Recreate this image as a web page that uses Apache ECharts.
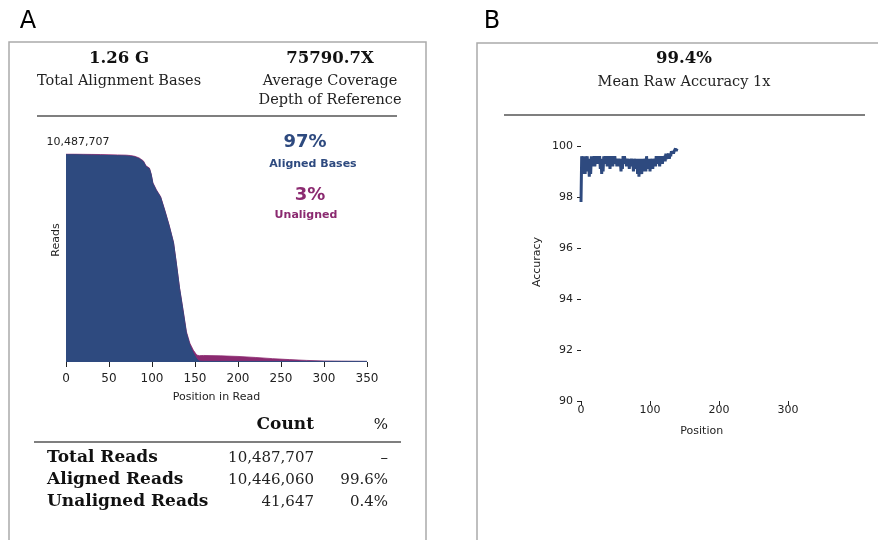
<!DOCTYPE html>
<html lang="en">
<head>
    <meta charset="utf-8">
    <title>Alignment summary</title>
    <script src="https://cdn.jsdelivr.net/npm/echarts@6/dist/echarts.min.js"></script>
    <style>
        html, body, #main {
            width: 100%;
            height: 100%;
            margin: 0;
            padding: 0;
            overflow: hidden;
            background-color: #ffffff;
        }
    </style>
</head>
<body>
<div id="main" style="width: 878px;height: 540px"></div>
<script>
    // panel A: reads per position in read (millions)
    var readPos = [0, 10, 20, 30, 40, 50, 60, 70, 75, 80, 85, 90, 93, 97, 99, 101, 105, 110, 115, 120,
        125, 128, 132, 136, 140, 144, 148, 152, 155, 160, 180, 200, 220, 240, 260, 280, 300, 320, 350];
    var alignedReads = [10.45, 10.45, 10.44, 10.43, 10.42, 10.41, 10.40, 10.39, 10.37, 10.33, 10.25, 10.10, 9.85, 9.74, 9.45, 9.0, 8.65, 8.3, 7.6, 6.85,
        6.0, 5.05, 3.7, 2.6, 1.45, 0.85, 0.45, 0.15, 0.04, 0.03, 0.03, 0.03, 0.03, 0.03, 0.03, 0.03, 0.03, 0.03, 0.03];
    var unalignedReads = [0.04, 0.04, 0.04, 0.04, 0.04, 0.04, 0.04, 0.04, 0.04, 0.04, 0.04, 0.04, 0.04, 0.04, 0.04, 0.04, 0.04, 0.04, 0.04, 0.04,
        0.04, 0.04, 0.05, 0.06, 0.08, 0.1, 0.15, 0.2, 0.28, 0.30, 0.28, 0.25, 0.2, 0.14, 0.09, 0.05, 0.02, 0.01, 0];
    var totalReads = 10.487707;
    var readTicks = [0, 50, 100, 150, 200, 250, 300, 350];

    // panel A summary text
    var headA = [['1.26 G', 'Total Alignment Bases', ''], ['75790.7X', 'Average Coverage', 'Depth of Reference']];
    var tableRows = ['Total Reads', 'Aligned Reads', 'Unaligned Reads'];
    var tableCounts = ['10,487,707', '10,446,060', '41,647'];
    var tablePct = ['\u2013', '99.6%', '0.4%'];

    // panel B: mean accuracy by position (0..140)
    var accuracy = [97.8, 99.6, 99.1, 99.5, 98.9, 99.6, 98.9, 99.5, 99.2, 99.6,
        99.0, 99.5, 98.8, 99.5, 98.9, 99.6, 99.2, 99.5, 99.3, 99.6,
        99.2, 99.5, 99.3, 99.6, 99.4, 99.5, 99.3, 99.6, 99.1, 99.5,
        98.9, 99.5, 99.0, 99.6, 99.3, 99.6, 99.4, 99.6, 99.2, 99.5,
        99.3, 99.6, 99.1, 99.5, 99.3, 99.6, 99.2, 99.5, 99.4, 99.6,
        99.3, 99.5, 99.2, 99.5, 99.3, 99.5, 99.2, 99.4, 99.0, 99.5,
        99.1, 99.6, 99.3, 99.6, 99.4, 99.5, 99.2, 99.5, 99.3, 99.5,
        99.1, 99.5, 99.3, 99.5, 99.2, 99.4, 99.0, 99.5, 99.2, 99.4,
        99.1, 99.5, 98.9, 99.4, 98.8, 99.5, 99.1, 99.4, 98.9, 99.5,
        99.0, 99.4, 99.2, 99.5, 99.0, 99.6, 99.1, 99.4, 99.2, 99.5,
        99.0, 99.4, 99.2, 99.5, 99.1, 99.5, 99.3, 99.5, 99.2, 99.6,
        99.3, 99.6, 99.4, 99.5, 99.2, 99.6, 99.4, 99.6, 99.3, 99.6,
        99.5, 99.6, 99.4, 99.7, 99.5, 99.6, 99.6, 99.7, 99.5, 99.7,
        99.6, 99.8, 99.7, 99.8, 99.7, 99.8, 99.8, 99.9, 99.8, 99.9,
        99.9];
    var accTicks = [90, 92, 94, 96, 98, 100];
    var accPosTicks = [0, 100, 200, 300];

    var blue = '#2e4a7f';
    var purple = '#8b2a70';
    var serif = '"DejaVu Serif", serif';
    var sans = '"DejaVu Sans", sans-serif';

    // total = aligned + unaligned, drawn behind the aligned area
    var alignedData = [], totalData = [], accData = [];
    for (var i = 0; i < readPos.length; i++) {
        alignedData.push([readPos[i], alignedReads[i]]);
        totalData.push([readPos[i], alignedReads[i] + unalignedReads[i]]);
    }
    for (var j = 0; j < accuracy.length; j++) {
        accData.push([j, accuracy[j]]);
    }

    function txt(s, x, y, font, color, align, rot) {
        return {
            type: 'text', x: x, y: y, z: 100, silent: true, rotation: rot || 0,
            style: {
                text: s, font: font, fill: color || '#222',
                align: align || 'center', verticalAlign: 'middle',
                textAlign: align || 'center', textVerticalAlign: 'middle'
            }
        };
    }

    function rule(x1, x2, y, color) {
        return {
            type: 'line', silent: true, z: 100,
            shape: {x1: x1, y1: y, x2: x2, y2: y},
            style: {stroke: color || '#555', lineWidth: 1.5}
        };
    }

    var g = [];
    // panel frames and letters
    g.push({type: 'rect', shape: {x: 9, y: 42, width: 417, height: 520}, style: {fill: 'none', stroke: '#aaa', lineWidth: 1.5}, silent: true});
    g.push({type: 'rect', shape: {x: 477, y: 43, width: 420, height: 520}, style: {fill: 'none', stroke: '#aaa', lineWidth: 1.5}, silent: true});
    g.push(txt('A', 28, 22, '24px ' + sans, '#000'));
    g.push(txt('B', 492, 22, '24px ' + sans, '#000'));

    // panel A header
    var headX = [119, 330];
    for (var h = 0; h < headA.length; h++) {
        g.push(txt(headA[h][0], headX[h], 59, 'bold 16.5px ' + serif, '#111'));
        g.push(txt(headA[h][1], headX[h], 81, '14.5px ' + serif, '#222'));
        if (headA[h][2]) g.push(txt(headA[h][2], headX[h], 100, '14.5px ' + serif, '#222'));
    }
    g.push(rule(37, 397, 116));

    // panel A plot annotations
    g.push(txt('10,487,707', 78, 142, '11px ' + sans, '#222'));
    g.push(txt('Reads', 56, 240, '11px ' + sans, '#222', 'center', Math.PI / 2));
    g.push(txt('97%', 305, 142, 'bold 18px ' + sans, blue));
    g.push(txt('Aligned Bases', 313, 164, 'bold 11px ' + sans, blue));
    g.push(txt('3%', 310, 195, 'bold 18px ' + sans, purple));
    g.push(txt('Unaligned', 306, 215, 'bold 11px ' + sans, purple));

    // panel A table
    g.push(txt('Count', 314, 425, 'bold 17px ' + serif, '#111', 'right'));
    g.push(txt('%', 388, 425, '15px ' + serif, '#111', 'right'));
    g.push(rule(34, 401, 442));
    for (var r = 0; r < tableRows.length; r++) {
        var ry = 458 + r * 22;
        g.push(txt(tableRows[r], 47, ry, 'bold 17px ' + serif, '#111', 'left'));
        g.push(txt(tableCounts[r], 314, ry, '15px ' + serif, '#222', 'right'));
        g.push(txt(tablePct[r], 388, ry, '15px ' + serif, '#222', 'right'));
    }

    // panel B header
    g.push(txt('99.4%', 684, 59, 'bold 16.5px ' + serif, '#111'));
    g.push(txt('Mean Raw Accuracy 1x', 684, 82, '14.5px ' + serif, '#222'));
    g.push(rule(504, 865, 115));
    g.push(txt('Accuracy', 537, 262, '11px ' + sans, '#222', 'center', Math.PI / 2));

    var chart = echarts.init(document.getElementById('main'));
    var option = {
        animation: false,
        graphic: g,
        grid: [
            {left: 66, top: 154, width: 301, height: 208},
            {left: 581, top: 146, width: 241.5, height: 255}
        ],
        xAxis: [
            {
                gridIndex: 0, type: 'value', min: 0, max: 350, interval: 50,
                name: 'Position in Read', nameLocation: 'middle', nameGap: 30,
                nameTextStyle: {fontFamily: 'DejaVu Sans', fontSize: 11, color: '#222'},
                axisLine: {show: false},
                axisTick: {show: true, length: 5, lineStyle: {color: '#222'}},
                axisLabel: {fontFamily: 'DejaVu Sans', fontSize: 12, color: '#222', margin: 11,
                    customValues: readTicks},
                splitLine: {show: false}
            },
            {
                gridIndex: 1, type: 'value', min: 0, max: 350,
                name: 'Position', nameLocation: 'middle', nameGap: 25,
                nameTextStyle: {fontFamily: 'DejaVu Sans', fontSize: 11, color: '#222'},
                axisLine: {show: false},
                axisTick: {show: true, length: 4, lineStyle: {color: '#222'}, customValues: accPosTicks},
                axisLabel: {fontFamily: 'DejaVu Sans', fontSize: 11, color: '#222', margin: 4,
                    customValues: accPosTicks},
                splitLine: {show: false}
            }
        ],
        yAxis: [
            {
                gridIndex: 0, type: 'value', min: 0, max: totalReads,
                axisLine: {show: false}, axisTick: {show: false}, axisLabel: {show: false},
                splitLine: {show: false}
            },
            {
                gridIndex: 1, type: 'value', min: 90, max: 100, interval: 2, offset: 4,
                axisLine: {show: false},
                axisTick: {show: true, length: 4, lineStyle: {color: '#222'}},
                axisLabel: {fontFamily: 'DejaVu Sans', fontSize: 11, color: '#222', margin: 4,
                    customValues: accTicks},
                splitLine: {show: false}
            }
        ],
        series: [
            {
                type: 'line', xAxisIndex: 0, yAxisIndex: 0, name: 'Unaligned',
                data: totalData, symbol: 'none',
                lineStyle: {color: purple, width: 0.8},
                areaStyle: {color: purple, opacity: 1}
            },
            {
                type: 'line', xAxisIndex: 0, yAxisIndex: 0, name: 'Aligned',
                data: alignedData, symbol: 'none',
                lineStyle: {color: blue, width: 1},
                areaStyle: {color: blue, opacity: 1}
            },
            {
                type: 'line', xAxisIndex: 1, yAxisIndex: 1, name: 'Accuracy',
                data: accData, symbol: 'none',
                lineStyle: {color: blue, width: 3}
            }
        ]
    };
    chart.setOption(option);
</script>
</body>
</html>
